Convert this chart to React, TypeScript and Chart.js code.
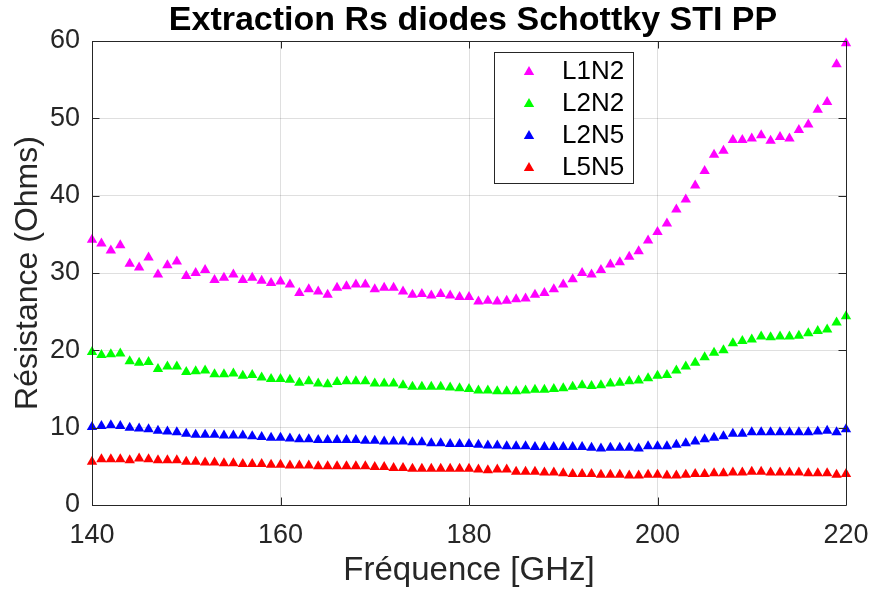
import { useEffect, useRef } from "react";
import { Chart, registerables } from "chart.js";

Chart.register(...registerables);

const FREQ_GHZ = [
  140, 141, 142, 143, 144, 145, 146, 147, 148, 149,
  150, 151, 152, 153, 154, 155, 156, 157, 158, 159,
  160, 161, 162, 163, 164, 165, 166, 167, 168, 169,
  170, 171, 172, 173, 174, 175, 176, 177, 178, 179,
  180, 181, 182, 183, 184, 185, 186, 187, 188, 189,
  190, 191, 192, 193, 194, 195, 196, 197, 198, 199,
  200, 201, 202, 203, 204, 205, 206, 207, 208, 209,
  210, 211, 212, 213, 214, 215, 216, 217, 218, 219,
  220,
];

const L1N2 = [
  34.3, 33.8, 32.9, 33.6, 31.2, 30.7, 32.0, 29.8, 31.0, 31.5,
  29.6, 30.0, 30.4, 29.1, 29.4, 29.8, 29.1, 29.4, 29.0, 28.7,
  28.9, 28.5, 27.4, 27.9, 27.6, 27.2, 28.1, 28.3, 28.5, 28.5,
  27.9, 28.1, 28.1, 27.6, 27.2, 27.3, 27.1, 27.3, 27.1, 26.9,
  26.9, 26.3, 26.4, 26.3, 26.4, 26.6, 26.7, 27.2, 27.4, 27.9,
  28.5, 29.2, 30.0, 29.8, 30.4, 31.1, 31.4, 32.1, 32.8, 34.2,
  35.3, 36.4, 38.2, 39.5, 41.3, 43.2, 45.3, 45.8, 47.2, 47.2,
  47.4, 47.8, 47.1, 47.6, 47.4, 48.5, 49.2, 51.1, 52.1, 57.0,
  59.7,
];

const L2N2 = [
  19.8, 19.4, 19.5, 19.6, 18.6, 18.4, 18.5, 17.6, 17.9, 17.9,
  17.2, 17.3, 17.4, 16.9, 16.9, 17.0, 16.7, 16.8, 16.5, 16.3,
  16.3, 16.2, 15.8, 16.0, 15.7, 15.6, 15.9, 16.0, 16.0, 16.0,
  15.7, 15.7, 15.7, 15.5, 15.3, 15.3, 15.3, 15.3, 15.2, 15.1,
  15.0, 14.8, 14.8, 14.7, 14.7, 14.7, 14.8, 14.9, 14.9, 15.0,
  15.1, 15.3, 15.5, 15.4, 15.5, 15.7, 15.8, 16.0, 16.1, 16.4,
  16.7, 16.8, 17.4, 17.9, 18.4, 19.1, 19.7, 20.0, 20.9, 21.2,
  21.4, 21.8, 21.7, 21.8, 21.8, 21.9, 22.2, 22.5, 22.7, 23.6,
  24.4,
];

const L2N5 = [
  10.1, 10.2, 10.3, 10.2, 10.0, 9.9, 9.8, 9.6, 9.5, 9.4,
  9.2, 9.1, 9.1, 9.1, 9.0, 9.0, 9.0, 8.9, 8.8, 8.7,
  8.7, 8.6, 8.5, 8.5, 8.4, 8.4, 8.4, 8.4, 8.4, 8.3,
  8.3, 8.2, 8.2, 8.2, 8.1, 8.1, 8.0, 8.0, 7.9, 7.9,
  7.9, 7.8, 7.7, 7.7, 7.6, 7.6, 7.6, 7.5, 7.5, 7.5,
  7.5, 7.5, 7.5, 7.4, 7.3, 7.4, 7.4, 7.4, 7.3, 7.6,
  7.6, 7.6, 7.8, 8.0, 8.2, 8.5, 8.7, 8.9, 9.2, 9.2,
  9.4, 9.4, 9.4, 9.4, 9.4, 9.4, 9.4, 9.5, 9.6, 9.4,
  9.8,
];

const L5N5 = [
  5.6, 5.9, 5.9, 5.9, 5.8, 6.0, 5.9, 5.8, 5.8, 5.8,
  5.6, 5.6, 5.5, 5.5, 5.4, 5.4, 5.3, 5.3, 5.3, 5.2,
  5.2, 5.1, 5.1, 5.1, 5.0, 5.0, 5.0, 5.0, 5.0, 5.0,
  4.9, 4.9, 4.8, 4.8, 4.7, 4.7, 4.7, 4.7, 4.7, 4.7,
  4.7, 4.6, 4.5, 4.6, 4.6, 4.3, 4.3, 4.3, 4.2, 4.2,
  4.1, 4.0, 4.0, 4.0, 3.9, 3.9, 3.9, 3.8, 3.8, 3.9,
  3.9, 3.8, 3.8, 3.9, 4.0, 4.0, 4.1, 4.1, 4.2, 4.2,
  4.3, 4.3, 4.2, 4.2, 4.2, 4.2, 4.1, 4.1, 4.1, 3.9,
  4.0,
];

const SERIES_NAMES = ["L1N2", "L2N2", "L2N5", "L5N5"];
const SERIES_VALUES = [L1N2, L2N2, L2N5, L5N5];
const SERIES_COLORS = ["#ff00ff", "#00ff00", "#0000ff", "#ff0000"];

const X_TICKS = [140, 160, 180, 200, 220];
const Y_TICKS = [0, 10, 20, 30, 40, 50, 60];

const TITLE = "Extraction Rs diodes Schottky STI PP";
const X_TITLE = "Fréquence [GHz]";
const Y_TITLE = "Résistance (Ohms)";

const FONT = "'Liberation Sans', Arial, Helvetica, sans-serif";
const AXIS_COLOR = "#262626";

function triangle(ctx: CanvasRenderingContext2D, x: number, y: number, r: number, color: string) {
  ctx.beginPath();
  ctx.moveTo(x, y - r);
  ctx.lineTo(x + r * 0.866, y + r * 0.5);
  ctx.lineTo(x - r * 0.866, y + r * 0.5);
  ctx.closePath();
  ctx.fillStyle = color;
  ctx.fill();
}

const framePlugin = {
  id: "matlabFrame",
  afterDraw(chart: any) {
    const { ctx, chartArea, scales } = chart;
    const { left, right, top, bottom } = chartArea;
    const tl = 7.5;
    ctx.save();
    ctx.strokeStyle = AXIS_COLOR;
    ctx.lineWidth = 1;
    ctx.beginPath();
    ctx.rect(Math.round(left) + 0.5, Math.round(top) + 0.5, Math.round(right - left), Math.round(bottom - top));
    for (const v of X_TICKS) {
      const px = Math.round(scales.x.getPixelForValue(v)) + 0.5;
      ctx.moveTo(px, bottom);
      ctx.lineTo(px, bottom - tl);
      ctx.moveTo(px, top);
      ctx.lineTo(px, top + tl);
    }
    for (const v of Y_TICKS) {
      const py = Math.round(scales.y.getPixelForValue(v)) + 0.5;
      ctx.moveTo(left, py);
      ctx.lineTo(left + tl, py);
      ctx.moveTo(right, py);
      ctx.lineTo(right - tl, py);
    }
    ctx.stroke();

    // title
    ctx.fillStyle = "#000";
    ctx.font = `bold 34px ${FONT}`;
    ctx.textAlign = "center";
    ctx.textBaseline = "alphabetic";
    ctx.fillText(TITLE, (left + right) / 2 + 4, 30);

    // legend
    const lx = 494.5, ly = 52.5, lw = 139, lh = 131;
    ctx.fillStyle = "#fff";
    ctx.fillRect(lx, ly, lw, lh);
    ctx.strokeStyle = AXIS_COLOR;
    ctx.strokeRect(lx, ly, lw, lh);
    ctx.font = `26px ${FONT}`;
    ctx.textAlign = "left";
    ctx.textBaseline = "middle";
    const rows = [71, 103, 135, 167];
    SERIES_NAMES.forEach((name, i) => {
      triangle(ctx, 529, rows[i] + 1, 6, SERIES_COLORS[i]);
      ctx.fillStyle = "#000";
      ctx.fillText(name, 562, rows[i] + 1);
    });
    ctx.restore();
  },
};

export default function App() {
  const ref = useRef<HTMLCanvasElement | null>(null);

  useEffect(() => {
    if (!ref.current) return;
    const datasets = SERIES_NAMES.map((name, i) => ({
      label: name,
      data: FREQ_GHZ.map((f, k) => ({ x: f, y: SERIES_VALUES[i][k] })),
      backgroundColor: SERIES_COLORS[i],
      borderColor: SERIES_COLORS[i],
      borderWidth: 0,
      pointStyle: "triangle" as const,
      pointRadius: 6,
      pointBorderWidth: 0,
      showLine: false,
      clip: false as any,
    }));

    const chart = new Chart(ref.current, {
      type: "scatter",
      data: { datasets },
      plugins: [framePlugin],
      options: {
        responsive: false,
        animation: false,
        layout: { padding: { top: 41, right: 27, left: 0, bottom: 0 } },
        plugins: {
          legend: { display: false },
          title: { display: false },
          tooltip: { enabled: false },
        },
        scales: {
          x: {
            type: "linear",
            min: 140,
            max: 220,
            afterBuildTicks: (s: any) => {
              s.ticks = X_TICKS.map((v) => ({ value: v }));
            },
            afterFit: (s: any) => {
              s.height = 91;
              s.paddingLeft = 0;
              s.paddingRight = 0;
            },
            ticks: {
              color: AXIS_COLOR,
              font: { family: FONT, size: 27 },
              padding: 14,
              maxRotation: 0,
            },
            grid: { color: "rgba(38,38,38,0.15)", drawTicks: false, lineWidth: 1 },
            border: { display: false },
            title: {
              display: true,
              text: X_TITLE,
              color: AXIS_COLOR,
              font: { family: FONT, size: 33 },
              padding: { top: 0, bottom: 5 },
            },
          },
          y: {
            type: "linear",
            min: 0,
            max: 60,
            afterBuildTicks: (s: any) => {
              s.ticks = Y_TICKS.map((v) => ({ value: v }));
            },
            afterFit: (s: any) => {
              s.width = 92;
              s.paddingTop = 0;
              s.paddingBottom = 0;
            },
            ticks: {
              color: AXIS_COLOR,
              font: { family: FONT, size: 27 },
              padding: 12,
            },
            grid: { color: "rgba(38,38,38,0.15)", drawTicks: false, lineWidth: 1 },
            border: { display: false },
            title: {
              display: true,
              text: Y_TITLE,
              color: AXIS_COLOR,
              font: { family: FONT, size: 32 },
              padding: { top: 9, bottom: 0 },
            },
          },
        },
      },
    });
    return () => chart.destroy();
  }, []);

  return (
    <div style={{ position: "absolute", left: 0, top: 0, width: 873, height: 596, background: "#fff" }}>
      <canvas ref={ref} width={873} height={596} style={{ display: "block" }} />
    </div>
  );
}
